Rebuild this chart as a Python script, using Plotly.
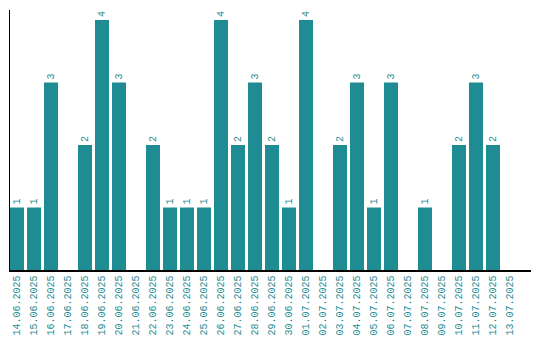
import plotly.graph_objects as go

dates = ["14.06.2025", "15.06.2025", "16.06.2025", "17.06.2025", "18.06.2025",
         "19.06.2025", "20.06.2025", "21.06.2025", "22.06.2025", "23.06.2025",
         "24.06.2025", "25.06.2025", "26.06.2025", "27.06.2025", "28.06.2025",
         "29.06.2025", "30.06.2025", "01.07.2025", "02.07.2025", "03.07.2025",
         "04.07.2025", "05.07.2025", "06.07.2025", "07.07.2025", "08.07.2025",
         "09.07.2025", "10.07.2025", "11.07.2025", "12.07.2025", "13.07.2025"]
counts = [1, 1, 3, 0, 2, 4, 3, 0, 2, 1,
          1, 1, 4, 2, 3, 2, 1, 4, 0, 2,
          3, 1, 3, 0, 1, 0, 2, 3, 2, 0]

teal = "#1f8c93"
labels = [str(v) if v > 0 else "" for v in counts]

fig = go.Figure(go.Bar(
    x=dates, y=counts, marker=dict(color=teal, line=dict(width=0)),
    text=labels, textposition="outside", textangle=-90,
    textfont=dict(family="Liberation Mono", size=10, color=teal),
    cliponaxis=False, hoverinfo="skip",
))

fig.update_layout(
    width=540, height=340,
    margin=dict(l=10, r=9, t=10, b=70, autoexpand=False),
    paper_bgcolor="white", plot_bgcolor="white",
    bargap=3/17, showlegend=False,
    font=dict(family="Liberation Mono", size=10, color=teal),
)
fig.update_xaxes(
    type="category", range=[-0.5 + 1.5/17, -0.5 + 1.5/17 + 521/17],
    showline=True, linecolor="black", linewidth=1.5, automargin=False,
    ticks="", tickangle=-90, showgrid=False, zeroline=False,
    tickfont=dict(family="Liberation Mono", size=10, color=teal),
)
fig.update_yaxes(
    range=[0, 4.16], showline=True, linecolor="black", linewidth=1.5,
    automargin=False,
    showticklabels=False, ticks="", showgrid=False, zeroline=False,
)

fig.write_html(
    "out.html",
    config={"displayModeBar": False, "staticPlot": True},
    post_script="document.body.style.margin='0';document.body.style.overflow='hidden';",
)
